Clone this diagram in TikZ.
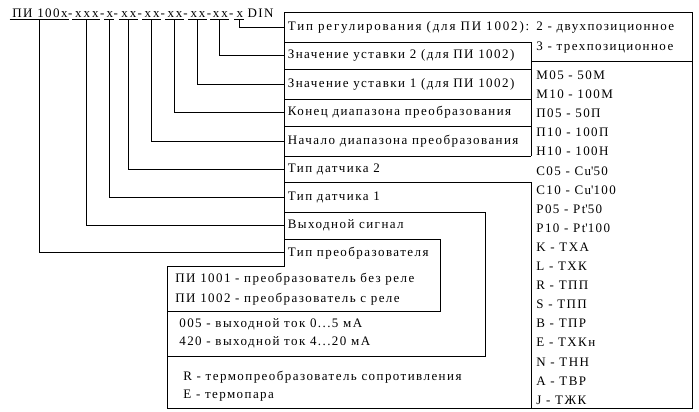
\documentclass[tikz,border=0pt]{standalone}
\usepackage{fontspec}
\setmainfont{Liberation Serif}[LetterSpace=11]
\begin{document}
\begin{tikzpicture}[x=1pt,y=-1pt,line width=0.8pt,
  every node/.style={font=\fontsize{13}{15}\selectfont, inner sep=0pt},
  code/.style={anchor=base, font=\fontsize{13}{15}\selectfont\addfontfeature{LetterSpace=15}},
  dsh/.style={anchor=base},
  lab/.style={anchor=west, inner xsep=3.5pt},
  opt/.style={anchor=west}]
\useasboundingbox (0,0) rectangle (699,412);
% code string
\node[dsh, minimum width=59pt] (g1) at (39.5,17.5) {\kern1ptПИ 100x};
\node[dsh] (d2) at (70.2,17.5) {-};
\node[code, minimum width=27pt] (g2) at (86.3,17.5) {\kern1ptxxx};
\node[dsh] (d3) at (102.2,17.5) {-};
\node[code, minimum width=9pt] (g3) at (109.3,17.5) {\kern1ptx};
\node[dsh] (d4) at (115.8,17.5) {-};
\node[code, minimum width=18pt] (g4) at (128.3,17.5) {\kern1ptxx};
\node[dsh] (d5) at (139.8,17.5) {-};
\node[code, minimum width=18pt] (g5) at (151.7,17.5) {\kern1ptxx};
\node[dsh] (d6) at (162.8,17.5) {-};
\node[code, minimum width=18pt] (g6) at (174.5,17.5) {\kern1ptxx};
\node[dsh] (d7) at (185.5,17.5) {-};
\node[code, minimum width=18pt] (g7) at (197.5,17.5) {\kern1ptxx};
\node[dsh] (d8) at (209,17.5) {-};
\node[code, minimum width=18pt] (g8) at (219.8,17.5) {\kern1ptxx};
\node[dsh] (d9) at (231.3,17.5) {-};
\node[code, minimum width=9pt] (g9) at (239.3,17.5) {\kern1ptx};
\node[dsh] (din) at (260.5,17.5) {DIN};
\foreach \g in {g1,g2,g3,g4,g5,g6,g7,g8,g9}
  \draw ([yshift=-1.8pt]\g.base west) -- ([yshift=-1.8pt]\g.base east);
% row labels
\node[lab, font=\fontsize{13}{15}\selectfont\addfontfeature{LetterSpace=14}] (r9) at (284,27.5) {Тип регулирования (для ПИ 1002):};
\node[lab] (r8) at (284,55.8) {Значение уставки 2 (для ПИ 1002)};
\node[lab] (r7) at (284,84.1) {Значение уставки 1 (для ПИ 1002)};
\node[lab] (r6) at (284,112.7) {Конец диапазона преобразования};
\node[lab] (r5) at (284,141.2) {Начало диапазона преобразования};
\node[lab] (r4) at (284,169.2) {Тип датчика 2};
\node[lab] (r3) at (284,197.3) {Тип датчика 1};
\node[lab] (r2) at (284,225.7) {Выходной сигнал};
\node[lab] (r1) at (284,252.8) {Тип преобразователя};
% connectors
\foreach \i in {1,...,9}
  \draw ([yshift=-1.8pt]g\i.base) |- (r\i.west);
% box lines
\draw (284,12.7) -- (692,12.7) -- (692,408.5) -- (167,408.5) -- (167,266.5) -- (284,266.5) -- cycle;
\foreach \y in {42.3,69.3,99,126.5,156}
  \draw (284,\y) -- (531,\y);
\draw (531,42.3) -- (531,156);
\draw (531,61) -- (692,61);
\draw (284,182.3) -- (531,182.3) -- (531,408.5);
\draw (284,212.3) -- (485,212.3) -- (485,356.7) -- (167,356.7);
\draw (284,239) -- (440,239) -- (440,311.7) -- (167,311.7);
% options
\node[opt] (o1) at (536,27.5) {2 - двухпозиционное};
\node[opt] (o2) at (536,48) {3 - трехпозиционное};
\foreach \t [count=\i] in {М05 - 50М, М10 - 100М, П05 - 50П, П10 - 100П, Н10 - 100Н,
  С05 - Cu\textquotesingle50, С10 - Cu\textquotesingle100, P05 - Pt\textquotesingle50, P10 - Pt\textquotesingle100,
  K - ТХА, L - ТХК, R - ТПП, S - ТПП, B - ТПР, E - ТХКн, N - ТНН, A - ТВР, J - ТЖК}
  \node[opt] (s\i) at (536,{75.3+19.1*(\i-1)}) {\t};
\node[opt] (p1) at (175,279) {ПИ 1001 - преобразователь без реле};
\node[opt] (p2) at (175,299) {ПИ 1002 - преобразователь с реле};
\node[opt] (v1) at (179,324.3) {005 - выходной ток 0...5 мА};
\node[opt] (v2) at (179,342.5) {420 - выходной ток 4...20 мА};
\node[opt] (t1) at (183,377.3) {R - термопреобразователь сопротивления};
\node[opt] (t2) at (183,396) {E - термопара};
\end{tikzpicture}
\end{document}
